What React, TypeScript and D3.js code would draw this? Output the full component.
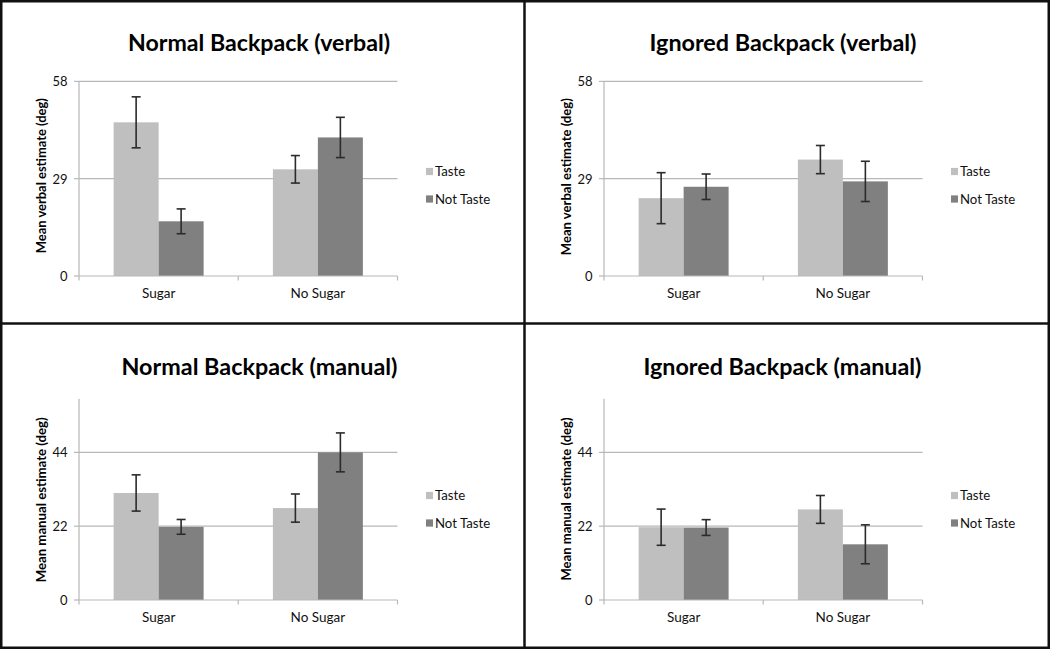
import React from "react";
import * as d3 from "d3";

// ---------- data ----------
const categories = ["Sugar", "No Sugar"];
const seriesNames = ["Taste", "Not Taste"];

const titles = [
  "Normal Backpack (verbal)",
  "Ignored Backpack (verbal)",
  "Normal Backpack (manual)",
  "Ignored Backpack (manual)",
];
const yLabels = [
  "Mean verbal estimate (deg)",
  "Mean verbal estimate (deg)",
  "Mean manual estimate (deg)",
  "Mean manual estimate (deg)",
];
const verbalTicks = [0, 29, 58];
const manualTicks = [0, 22, 44];
const verbalMax = 58;
const manualMax = 60;

const normalVerbalTaste = [45.8, 31.8];
const normalVerbalTasteErr = [7.6, 4.1];
const normalVerbalNotTaste = [16.3, 41.3];
const normalVerbalNotTasteErr = [3.7, 6.0];

const ignoredVerbalTaste = [23.2, 34.7];
const ignoredVerbalTasteErr = [7.6, 4.2];
const ignoredVerbalNotTaste = [26.6, 28.2];
const ignoredVerbalNotTasteErr = [3.8, 6.0];

const normalManualTaste = [31.9, 27.4];
const normalManualTasteErr = [5.4, 4.2];
const normalManualNotTaste = [21.8, 44.0];
const normalManualNotTasteErr = [2.2, 5.8];

const ignoredManualTaste = [21.7, 27.0];
const ignoredManualTasteErr = [5.4, 4.15];
const ignoredManualNotTaste = [21.6, 16.6];
const ignoredManualNotTasteErr = [2.35, 5.8];

const panels = [
  {
    title: titles[0], yLabel: yLabels[0], ticks: verbalTicks, max: verbalMax,
    values: [normalVerbalTaste, normalVerbalNotTaste],
    errors: [normalVerbalTasteErr, normalVerbalNotTasteErr],
  },
  {
    title: titles[1], yLabel: yLabels[1], ticks: verbalTicks, max: verbalMax,
    values: [ignoredVerbalTaste, ignoredVerbalNotTaste],
    errors: [ignoredVerbalTasteErr, ignoredVerbalNotTasteErr],
  },
  {
    title: titles[2], yLabel: yLabels[2], ticks: manualTicks, max: manualMax,
    values: [normalManualTaste, normalManualNotTaste],
    errors: [normalManualTasteErr, normalManualNotTasteErr],
  },
  {
    title: titles[3], yLabel: yLabels[3], ticks: manualTicks, max: manualMax,
    values: [ignoredManualTaste, ignoredManualNotTaste],
    errors: [ignoredManualTasteErr, ignoredManualNotTasteErr],
  },
];

// ---------- layout / style ----------
const W = 1050;
const H = 649;
const PW = 525;
const PH = 324;
const FONT = "Lato, 'Open Sans', sans-serif";
const colors = ["#BFBFBF", "#808080"];
const gridColor = "#B8B8B8";
const plotLeft = 79;
const plotRight = 397.5;
const y0 = 276;
const pxPerUnit = 3.355;
const titleWidths = [262, 267, 276, 278];
const titleCenters = [259, 258, 259.5, 257.5];
const yLabelWidths = [155, 157, 165, 163];
const yLabelCenters = [175.7, 176.7, 175.8, 175];

function Panel({ p, i, ox, oy }: { p: any; i: number; ox: number; oy: number }) {
  const x = d3.scaleBand().domain(categories).range([plotLeft, plotRight]).paddingInner(0).paddingOuter(0);
  const y = d3.scaleLinear().domain([0, p.max]).range([y0, y0 - p.max * pxPerUnit]);
  const groupW = x.bandwidth() * 0.565;
  const xs = d3.scaleBand().domain(seriesNames).range([0, groupW]).padding(0);
  const bw = xs.bandwidth();
  const capW = 9;

  return (
    <g transform={`translate(${ox},${oy})`}>
      {/* title */}
      <text
        x={titleCenters[i]}
        y={50.5}
        textAnchor="middle"
        fontFamily={FONT}
        fontWeight={700}
        fontSize={23.5}
        textLength={titleWidths[i]}
        lengthAdjust="spacingAndGlyphs"
        fill="#000"
      >
        {p.title}
      </text>
      {/* gridlines */}
      {p.ticks.filter((t: number) => t > 0).map((t: number) => (
        <line key={t} x1={plotLeft} x2={plotRight} y1={y(t)} y2={y(t)} stroke={gridColor} strokeWidth={1.2} />
      ))}
      {/* y axis */}
      <line x1={plotLeft} x2={plotLeft} y1={y(p.max)} y2={y0} stroke={gridColor} strokeWidth={1.2} />
      {p.ticks.map((t: number) => (
        <g key={"t" + t}>
          <line x1={plotLeft - 5} x2={plotLeft} y1={y(t)} y2={y(t)} stroke={gridColor} strokeWidth={1.2} />
          <text x={plotLeft - 11.5} y={y(t)} dy="0.37em" textAnchor="end" fontFamily={FONT} fontSize={13} fill="#111">
            {t}
          </text>
        </g>
      ))}
      {/* y label */}
      <text
        transform={`translate(46,${yLabelCenters[i]}) rotate(-90)`}
        textAnchor="middle"
        fontFamily={FONT}
        fontWeight={700}
        fontSize={12.5}
        textLength={yLabelWidths[i]}
        lengthAdjust="spacingAndGlyphs"
        fill="#000"
      >
        {p.yLabel}
      </text>
      {/* bars */}
      {categories.map((c, ci) => {
        const gx = (x(c) as number) + (x.bandwidth() - groupW) / 2;
        return (
          <g key={c}>
            {seriesNames.map((s, si) => {
              const v = p.values[si][ci];
              const e = p.errors[si][ci];
              const bx = gx + (xs(s) as number);
              const cx = bx + bw / 2;
              return (
                <g key={s}>
                  <rect x={bx} y={y(v)} width={bw} height={y0 - y(v)} fill={colors[si]} />
                  <line x1={cx} x2={cx} y1={y(v + e)} y2={y(v - e)} stroke="#2b2b2b" strokeWidth={1.6} />
                  <line x1={cx - capW / 2} x2={cx + capW / 2} y1={y(v + e)} y2={y(v + e)} stroke="#2b2b2b" strokeWidth={1.6} />
                  <line x1={cx - capW / 2} x2={cx + capW / 2} y1={y(v - e)} y2={y(v - e)} stroke="#2b2b2b" strokeWidth={1.6} />
                </g>
              );
            })}
          </g>
        );
      })}
      {/* x axis */}
      <line x1={plotLeft} x2={plotRight} y1={y0} y2={y0} stroke={gridColor} strokeWidth={1.2} />
      {[plotLeft, ...categories.map((c) => (x(c) as number) + x.bandwidth())].map((tx, k) => (
        <line key={"xt" + k} x1={tx} x2={tx} y1={y0} y2={y0 + 4.5} stroke={gridColor} strokeWidth={1.2} />
      ))}
      {categories.map((c) => (
        <text key={"xl" + c} x={(x(c) as number) + x.bandwidth() / 2} y={298.3} textAnchor="middle" fontFamily={FONT} fontSize={13.5} fill="#111">
          {c}
        </text>
      ))}
      {/* legend */}
      {seriesNames.map((s, si) => (
        <g key={"lg" + s} transform={`translate(0,${171.5 + si * 27.5})`}>
          <rect x={426} y={-3.6} width={7} height={7.2} fill={colors[si]} />
          <text x={435} y={0} dy="0.37em" fontFamily={FONT} fontSize={13.2} fill="#111">
            {s}
          </text>
        </g>
      ))}
    </g>
  );
}

export default function App() {
  const offsets = [
    [0, 0],
    [PW, 0],
    [0, PH],
    [PW, PH],
  ];
  return (
    <svg
      width={W}
      height={H}
      viewBox={`0 0 ${W} ${H}`}
      style={{ position: "absolute", left: 0, top: 0, background: "#fff" }}
    >
      <rect x={0} y={0} width={W} height={H} fill="#fff" />
      {panels.map((p, i) => (
        <Panel key={i} p={p} i={i} ox={offsets[i][0]} oy={offsets[i][1]} />
      ))}
      {/* frame and dividers */}
      <line x1={524.5} x2={524.5} y1={0} y2={H} stroke="#111" strokeWidth={2.5} />
      <line x1={0} x2={W} y1={323.5} y2={323.5} stroke="#111" strokeWidth={2.5} />
      <rect x={1.25} y={1.25} width={W - 2.5} height={H - 2.5} fill="none" stroke="#111" strokeWidth={2.5} />
    </svg>
  );
}
